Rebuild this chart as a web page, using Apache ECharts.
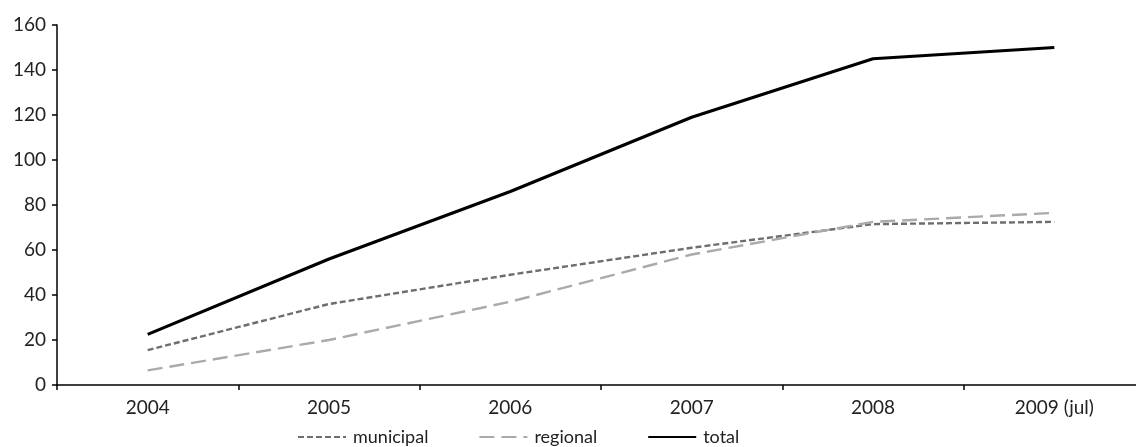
<!DOCTYPE html>
<html><head><meta charset="utf-8">
<script src="https://cdn.jsdelivr.net/npm/echarts@6/dist/echarts.min.js"></script>
<style>html,body{margin:0;padding:0;background:#fff}#c{width:1136px;height:447px}</style>
</head><body><div id="c"></div>
<script>
const categories = ['2004','2005','2006','2007','2008','2009 (jul)'];
const municipal = [15.5, 36, 49, 61, 71.5, 72.5];
const regional = [6.5, 20, 37, 58, 72.5, 76.5];
const total = [22.5, 56, 86, 119, 145, 150];
const yTicks = {min:0, max:160, interval:20};

const chart = echarts.init(document.getElementById('c'), null, {renderer:'canvas'});
const font = 'Lato, "Open Sans", sans-serif';
chart.setOption({
  animation:false,
  textStyle:{fontFamily:font},
  grid:{left:57, right:-9, top:25, bottom:62, containLabel:false, outerBoundsMode:'none'},
  legend:{
    bottom:1, left:297, padding:0, itemWidth:48, itemHeight:12, itemGap:50,
    textStyle:{fontFamily:font, fontSize:18, color:'#222', padding:[0,0,0,2]},
    itemStyle:{opacity:0},
    data:['municipal','regional','total']
  },
  xAxis:{
    type:'category', data:categories, boundaryGap:true,
    axisLine:{lineStyle:{color:'#000', width:1.5}},
    axisTick:{show:true, length:5, lineStyle:{color:'#000', width:1.5}},
    axisLabel:{color:'#222', fontSize:19, margin:13, fontFamily:font}
  },
  yAxis:{
    type:'value', min:yTicks.min, max:yTicks.max, interval:yTicks.interval,
    splitLine:{show:false},
    axisLine:{show:true, lineStyle:{color:'#000', width:1.5}},
    axisTick:{show:true, length:5, lineStyle:{color:'#000', width:1.5}},
    axisLabel:{color:'#222', fontSize:19, margin:11, fontFamily:font}
  },
  series:[
    {name:'municipal', type:'line', data:municipal, symbol:'none',
     lineStyle:{color:'#6e6e6e', width:2.4, type:[6,3]}, itemStyle:{color:'#6e6e6e'}},
    {name:'regional', type:'line', data:regional, symbol:'none',
     lineStyle:{color:'#aaaaaa', width:2.4, type:[15,7]}, itemStyle:{color:'#aaaaaa'}},
    {name:'total', type:'line', data:total, symbol:'none',
     lineStyle:{color:'#000', width:3.2}, itemStyle:{color:'#000'}}
  ]
});
</script></body></html>
